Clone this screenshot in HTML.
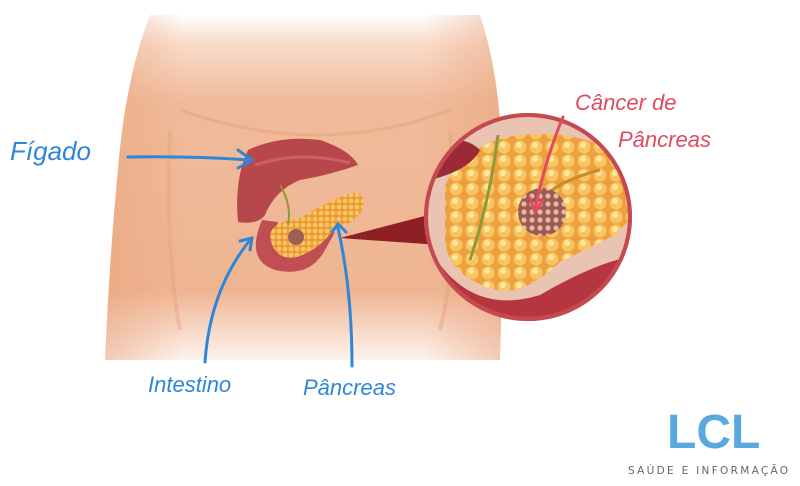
<!DOCTYPE html>
<html><head><meta charset="utf-8"><style>
html,body{margin:0;padding:0;background:#fff;width:800px;height:486px;overflow:hidden}
svg{display:block}
.hw{font-family:"Liberation Sans",sans-serif;font-style:italic}
</style></head><body>
<svg width="800" height="486" viewBox="0 0 800 486" xmlns="http://www.w3.org/2000/svg">
<defs>
<linearGradient id="fade" x1="0" y1="0" x2="0" y2="1">
<stop offset="0" stop-color="#ffffff"/><stop offset="0.08" stop-color="#f8dccb"/><stop offset="0.25" stop-color="#f0bb9a"/><stop offset="0.8" stop-color="#efb592"/><stop offset="1" stop-color="#fdf3ee"/></linearGradient>
<linearGradient id="side" x1="0" y1="0" x2="1" y2="0">
<stop offset="0" stop-color="#e9a27a" stop-opacity="0.5"/><stop offset="0.2" stop-color="#e9a27a" stop-opacity="0"/><stop offset="0.8" stop-color="#e9a27a" stop-opacity="0"/><stop offset="1" stop-color="#e9a27a" stop-opacity="0.5"/></linearGradient>
<radialGradient id="panc" cx="0.5" cy="0.5" r="0.6"><stop offset="0" stop-color="#f7c45a"/><stop offset="1" stop-color="#e88a2c"/></radialGradient>
<clipPath id="cc"><circle cx="528" cy="217" r="100"/></clipPath>
<pattern id="dots" width="16" height="14" patternUnits="userSpaceOnUse"><rect width="16" height="14" fill="#eda040"/><circle cx="8" cy="7" r="6.5" fill="#f8c560"/><circle cx="7" cy="5" r="3" fill="#fde7a0"/></pattern>
<pattern id="dots2" width="6" height="6" patternUnits="userSpaceOnUse"><rect width="6" height="6" fill="#ee9a3a"/><circle cx="3" cy="3" r="2.3" fill="#f8c860"/></pattern>
<pattern id="tum" width="8" height="8" patternUnits="userSpaceOnUse"><rect width="8" height="8" fill="#9c5a50"/><circle cx="4" cy="4" r="2.6" fill="#e2b8a8"/></pattern>
</defs>
<!-- torso -->
<path d="M150 15 L480 15 Q495 60 500 120 Q505 200 500 360 L105 360 Q110 250 118 170 Q125 80 150 15 Z" fill="url(#fade)"/>
<path d="M150 15 L480 15 Q495 60 500 120 Q505 200 500 360 L105 360 Q110 250 118 170 Q125 80 150 15 Z" fill="url(#side)"/>
<path d="M180 110 Q320 160 450 110" stroke="#e3a07c" stroke-width="3" fill="none" opacity="0.5"/>
<path d="M170 130 Q165 250 180 330 M450 130 Q460 250 440 330" stroke="#e3a07c" stroke-width="4" fill="none" opacity="0.4"/>
<!-- liver -->
<path d="M248 150 Q280 135 320 140 Q350 150 358 165 Q330 175 300 180 Q275 190 265 215 Q258 225 238 222 Q234 180 248 150 Z" fill="#b7474a"/>
<path d="M255 165 Q300 150 350 163" stroke="#c9635e" stroke-width="3" fill="none"/>
<!-- intestine -->
<path d="M262 220 Q245 260 275 270 Q310 278 325 250 L335 232 Q322 236 315 245 Q300 262 282 256 Q270 245 278 222 Z" fill="#c04e52"/>
<!-- pancreas -->
<path d="M270 235 Q272 222 300 218 Q322 205 345 195 Q365 188 364 205 Q360 222 335 228 Q315 255 290 258 Q272 256 270 235 Z" fill="url(#dots2)"/>
<circle cx="296" cy="237" r="8" fill="#9c5f55"/>
<path d="M280 185 Q292 205 288 225" stroke="#8c9a3a" stroke-width="2" fill="none"/>
<!-- wedge -->
<path d="M340 238 L440 212 L440 245 Z" fill="#8e1f24"/>
<!-- magnified circle -->
<circle cx="528" cy="217" r="104" fill="#d9676a"/>
<g clip-path="url(#cc)">
<rect x="420" y="110" width="220" height="220" fill="#e9c4b2"/>
<path d="M420 230 Q460 320 540 295 Q600 260 640 255 L640 330 L420 330 Z" fill="#b5363e"/>
<path d="M445 185 Q470 140 520 135 Q590 128 630 165 Q645 210 615 235 Q585 250 560 262 Q520 300 490 288 Q448 275 445 240 Z" fill="url(#dots)"/>
<path d="M498 135 Q490 200 470 260" stroke="#8c9a3a" stroke-width="3" fill="none"/>
<path d="M540 200 Q560 180 600 170" stroke="#c98a2e" stroke-width="3" fill="none"/>
<path d="M420 150 Q460 130 480 150 Q470 170 430 180 Z" fill="#9c2a36"/>
<circle cx="542" cy="212" r="24" fill="url(#tum)"/>
</g>
<circle cx="528" cy="217" r="102" fill="none" stroke="#c44a50" stroke-width="4"/>
<!-- blue arrows -->
<g stroke="#2f86d8" stroke-width="3" fill="none" stroke-linecap="round">
<path d="M128 157 Q190 156 250 160"/><path d="M238 150 L252 160 L238 168"/>
<path d="M205 362 Q210 290 250 240"/><path d="M240 241 L252 238 L250 250"/>
<path d="M352 366 Q352 290 338 228"/><path d="M332 232 L338 224 L346 232"/>
</g>
<g stroke="#e04b5e" stroke-width="3" fill="none" stroke-linecap="round">
<path d="M563 117 Q545 160 535 210"/><path d="M530 198 L535 212 L543 200"/>
</g>
<text x="10" y="160" class="hw" font-size="26" fill="#2f86d8">Fígado</text>
<text x="148" y="392" class="hw" font-size="22" fill="#2f86d8">Intestino</text>
<text x="303" y="395" class="hw" font-size="22" fill="#2f86d8">Pâncreas</text>
<text x="575" y="110" class="hw" font-size="22" fill="#e04b5e">Câncer de</text>
<text x="618" y="147" class="hw" font-size="22" fill="#e04b5e">Pâncreas</text>
<text x="667" y="448" font-family="Liberation Sans,sans-serif" font-weight="bold" font-size="48" fill="#5aa9de">LCL</text>
<text x="628" y="474" font-family="DejaVu Sans,sans-serif" font-size="10.5" letter-spacing="2.3" fill="#666">SAÚDE E INFORMAÇÃO</text>
</svg>
</body></html>
